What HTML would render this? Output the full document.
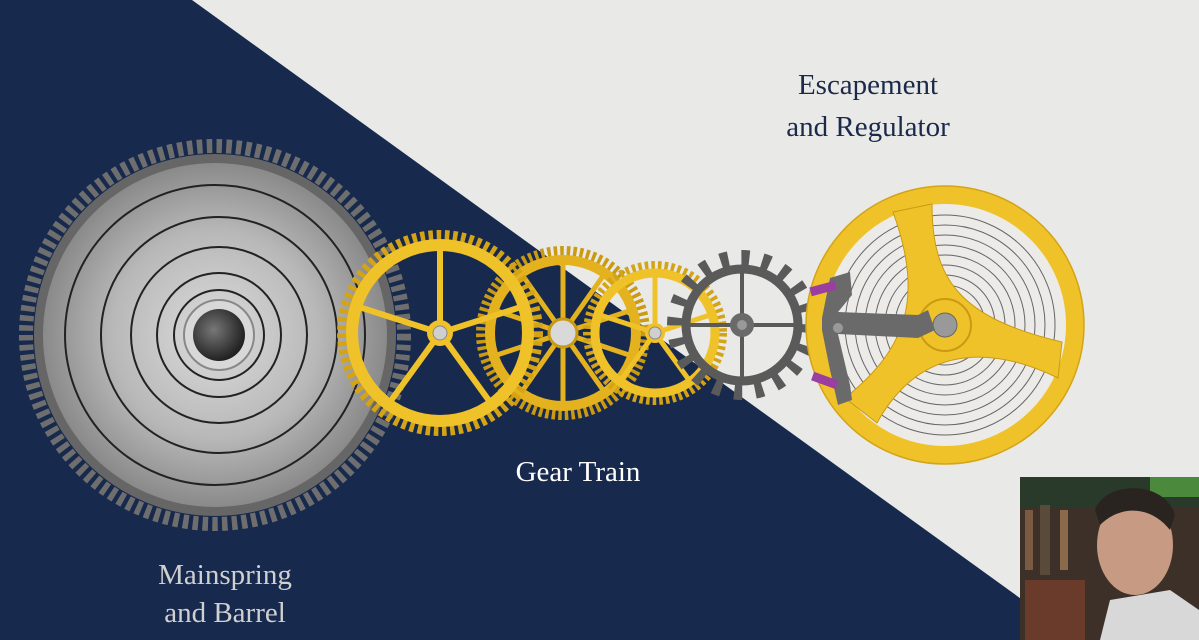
<!DOCTYPE html>
<html><head><meta charset="utf-8"><style>
html,body{margin:0;padding:0;width:1199px;height:640px;overflow:hidden;background:#e9e9e7}
svg{display:block}
text{font-family:"Liberation Serif",serif}
</style></head><body>
<svg width="1199" height="640" viewBox="0 0 1199 640" xmlns="http://www.w3.org/2000/svg">
<defs>
<radialGradient id="bar" cx="50%" cy="50%" r="50%">
<stop offset="0" stop-color="#dcdcdc"/><stop offset="0.6" stop-color="#b8b8b8"/><stop offset="1" stop-color="#8a8a8a"/>
</radialGradient>
<radialGradient id="hole" cx="40%" cy="40%" r="60%"><stop offset="0" stop-color="#777"/><stop offset="1" stop-color="#222"/></radialGradient>
</defs>
<rect width="1199" height="640" fill="#e9e9e7"/>
<polygon points="0,0 192,0 1078,640 0,640" fill="#172a4e"/>

<!-- Barrel -->
<g transform="translate(215,335)">
<circle r="189" fill="none" stroke="#6e6e6e" stroke-width="14" stroke-dasharray="5.5 4.3"/>
<circle r="181" fill="#666"/>
<circle r="172" fill="url(#bar)"/>
<g fill="none" stroke="#222" stroke-width="2">
<circle r="150" /><circle r="118" cx="4"/><circle r="88" cx="4"/><circle r="62" cx="4"/><circle r="45" cx="4"/>
</g>
<circle r="35" cx="4" fill="#d8d8d8" stroke="#888" stroke-width="2"/>
<circle r="26" cx="4" fill="url(#hole)"/>
</g>

<!-- Gear 2 -->
<g transform="translate(563,333)">
<circle r="82" fill="none" stroke="#c99a12" stroke-width="10" stroke-dasharray="3.5 3"/>
<circle r="73" fill="none" stroke="#e3b21e" stroke-width="10"/>
<g stroke="#e3b21e" stroke-width="5">
<line x1="0" y1="-70" x2="0" y2="70"/><line x1="-66" y1="-22" x2="66" y2="22"/><line x1="-66" y1="22" x2="66" y2="-22"/>
<line x1="-40" y1="-57" x2="40" y2="57"/><line x1="40" y1="-57" x2="-40" y2="57"/>
</g>
<circle r="14" fill="#d9d9d9" stroke="#c99a12" stroke-width="3"/>
</g>

<!-- Gear 1 -->
<g transform="translate(440,333)">
<circle r="97" fill="none" stroke="#d4a416" stroke-width="12" stroke-dasharray="4.5 3.6"/>
<circle r="88" fill="none" stroke="#f0c22a" stroke-width="12"/>
<g stroke="#f0c22a" stroke-width="6">
<line x1="0" y1="0" x2="0" y2="-85"/><line x1="0" y1="0" x2="81" y2="-26"/><line x1="0" y1="0" x2="50" y2="69"/>
<line x1="0" y1="0" x2="-50" y2="69"/><line x1="0" y1="0" x2="-81" y2="-26"/>
</g>
<circle r="13" fill="#f0c22a"/><circle r="7" fill="#cfcfcf" stroke="#888"/>
</g>

<!-- Gear 3 -->
<g transform="translate(655,333)">
<circle r="67" fill="none" stroke="#d4a416" stroke-width="10" stroke-dasharray="3.5 3"/>
<circle r="60" fill="none" stroke="#f0c22a" stroke-width="9"/>
<g stroke="#f0c22a" stroke-width="5">
<line x1="0" y1="0" x2="0" y2="-58"/><line x1="0" y1="0" x2="55" y2="-18"/><line x1="0" y1="0" x2="34" y2="47"/>
<line x1="0" y1="0" x2="-34" y2="47"/><line x1="0" y1="0" x2="-55" y2="-18"/>
</g>
<circle r="10" fill="#f0c22a"/><circle r="6" fill="#cfcfcf" stroke="#888"/>
</g>

<!-- Escape wheel -->
<g transform="translate(742,325)">
<circle r="67" fill="none" stroke="#5a5a5a" stroke-width="16" stroke-dasharray="8 13"/>
<circle r="56" fill="none" stroke="#5a5a5a" stroke-width="9"/>
<g stroke="#5a5a5a" stroke-width="4">
<line x1="-56" y1="0" x2="56" y2="0"/><line x1="0" y1="-56" x2="0" y2="56"/>
</g>
<circle r="12" fill="#6a6a6a"/><circle r="5" fill="#999"/>
</g>

<!-- Balance -->
<circle cx="945" cy="325" r="130" fill="#ecebe8" stroke="#f0c22a" stroke-width="18"/>
<circle cx="945" cy="325" r="139" fill="none" stroke="#d4a416" stroke-width="1.5"/>
<g fill="none" stroke="#666" stroke-width="1">
<circle cx="945" cy="325" r="30"/><circle cx="945" cy="325" r="40"/><circle cx="945" cy="325" r="50"/><circle cx="945" cy="325" r="60"/><circle cx="945" cy="325" r="70"/><circle cx="945" cy="325" r="80"/><circle cx="945" cy="325" r="90"/><circle cx="945" cy="325" r="100"/><circle cx="945" cy="325" r="110"/>
</g>
<path d="M893,212 L932,204 C932,280 960,318 1062,342 L1058,378 C990,345 920,345 877,423 L845,398 C905,350 925,300 893,212 Z" fill="#f0c22a" stroke="#c99a12" stroke-width="1"/>
<circle cx="945" cy="325" r="26" fill="#f0c22a" stroke="#c99a12" stroke-width="2"/>
<circle cx="945" cy="325" r="12" fill="#999" stroke="#666"/>

<!-- Pallet fork -->
<g fill="#6a6a6a">
<path d="M830,278 L850,272 L852,295 L838,312 L918,315 L928,310 L935,330 L918,338 L838,334 L850,385 L852,400 L838,405 L830,370 L822,330 L822,318 Z"/>
</g>
<rect x="810" y="284" width="26" height="9" fill="#9a3fa0" transform="rotate(-15 823 288)"/>
<rect x="812" y="376" width="26" height="9" fill="#9a3fa0" transform="rotate(20 825 380)"/>
<circle cx="838" cy="328" r="5" fill="#999"/>

<!-- Labels -->
<text x="868" y="94" font-size="29" fill="#1b2a4a" text-anchor="middle">Escapement</text>
<text x="868" y="136" font-size="29" fill="#1b2a4a" text-anchor="middle">and Regulator</text>
<text x="578" y="481" font-size="29" fill="#ffffff" text-anchor="middle">Gear Train</text>
<text x="225" y="584" font-size="29" fill="#d0d0d0" text-anchor="middle">Mainspring</text>
<text x="225" y="622" font-size="29" fill="#d0d0d0" text-anchor="middle">and Barrel</text>

<!-- Webcam -->
<g>
<rect x="1020" y="477" width="179" height="163" fill="#3c3028"/>
<rect x="1020" y="477" width="179" height="30" fill="#2a3a2a"/>
<rect x="1150" y="477" width="49" height="20" fill="#4b8a3c"/>
<rect x="1025" y="510" width="8" height="60" fill="#7a5a40"/><rect x="1040" y="505" width="10" height="70" fill="#5a4a3a"/>
<rect x="1060" y="510" width="8" height="60" fill="#8a6a4a"/>
<rect x="1025" y="580" width="60" height="60" fill="#6a3a2a"/>
<ellipse cx="1135" cy="545" rx="38" ry="50" fill="#c79a84"/>
<path d="M1095,510 C1105,480 1165,480 1175,515 L1170,530 C1150,505 1120,505 1100,525 Z" fill="#2a2420"/>
<path d="M1100,640 L1110,600 L1170,590 L1199,610 L1199,640 Z" fill="#d8d8d8"/>
</g>
</svg>
</body></html>
